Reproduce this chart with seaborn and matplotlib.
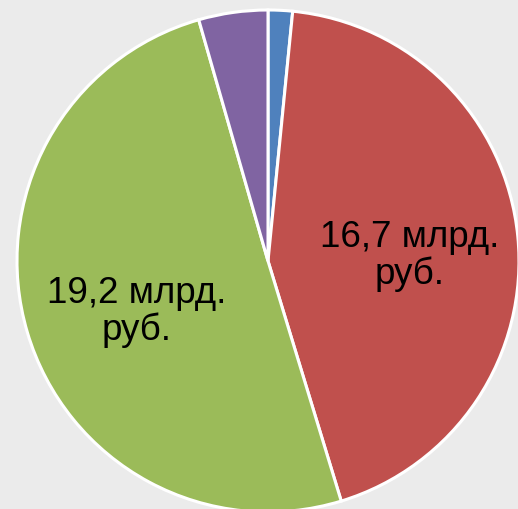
import matplotlib
matplotlib.use("Agg")
import matplotlib.pyplot as plt
import seaborn as sns

# slice values, billion rubles (clockwise from 12 o'clock)
values = [0.6, 16.7, 19.2, 1.7]
colors = ["#4f81bd", "#c0504d", "#9bbb59", "#8064a2"]
labels = ["", "16,7 млрд.\nруб.", "19,2 млрд.\nруб.", ""]

sns.set_style("white")
plt.rcParams["font.family"] = ["Liberation Sans", "DejaVu Sans"]

W, H = 518, 509
cx, cy, s = 268, 261, 251  # pie centre in pixels, pixels per unit radius

fig = plt.figure(figsize=(W / 100, H / 100), dpi=100)
fig.patch.set_facecolor("#ebebeb")
ax = fig.add_axes([0, 0, 1, 1])
ax.set_facecolor("#ebebeb")

wedges, _ = ax.pie(values, colors=colors, startangle=90, counterclock=False,
                   radius=1, wedgeprops=dict(edgecolor="white", linewidth=2.2))

# label positions (pixels)
label_pos = [None, (410, 256), (137, 312), None]
for lab, pos in zip(labels, label_pos):
    if pos is None:
        continue
    ax.text((pos[0] - cx) / s, (cy - pos[1]) / s, lab, ha="center", va="center",
            fontsize=26.5, color="black", linespacing=1.08)

ax.set_xlim(-cx / s, (W - cx) / s)
ax.set_ylim(-(H - cy) / s, cy / s)
ax.set_aspect("equal")
ax.axis("off")

fig.savefig("out.png", dpi=100, facecolor=fig.get_facecolor())
